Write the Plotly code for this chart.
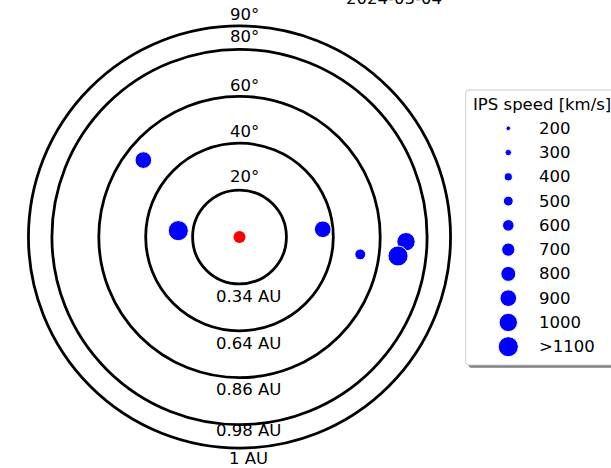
import plotly.graph_objects as go

# ---------------- data ----------------
elev_deg = [20, 40, 60, 80, 90]
deg_labels = ["20°", "40°", "60°", "80°", "90°"]
au_labels = ["0.34 AU", "0.64 AU", "0.86 AU", "0.98 AU", "1 AU"]

ips_x = [-41.0, -26.1, 35.5, 51.5, 71.0, 67.6]
ips_y = [32.8, 2.7, 3.3, -7.4, -2.0, -8.1]
ips_speed = [900, 1100, 900, 560, 1000, 1100]

sun_x = [0.0]
sun_y = [0.0]

legend_speeds = [200, 300, 400, 500, 600, 700, 800, 900, 1000, 1100]
legend_labels = ["200", "300", "400", "500", "600", "700", "800", "900", "1000", ">1100"]
legend_title = "IPS speed [km/s]"
date_label = "2024-03-04"

# ---------------- layout constants ----------------
W, H = 611, 468
CX, CY, S = 239.5, 237.0, 2.345  # centre (px) and px per degree
XR, YR = 100, 98
top_gap = [5.9, 5.2, 4.8, 5.3, 4.7]
bot_gap = [5.5, 5.3, 5.2, 2.4, 4.5]
DEG_LABEL_DX = 5.5 / S
AU_LABEL_DX = 8.7 / S
FONT = "DejaVu Sans"
FS = 16.5


def size_of(v):
    return 1.3 + 0.0171 * v


def px_x(p):
    return p / W


def px_y(p):
    return 1 - p / H


fig = go.Figure()

# sun
fig.add_trace(go.Scatter(x=sun_x, y=sun_y, mode="markers",
                         marker=dict(color="#ff0000", size=12, opacity=1),
                         hoverinfo="skip", showlegend=False))
# IPS points
fig.add_trace(go.Scatter(x=ips_x, y=ips_y, mode="markers",
                         marker=dict(color="#0000ff", opacity=1,
                                     size=[size_of(v) for v in ips_speed]),
                         showlegend=False))

shapes = []
annotations = []
for r, dl, al, tg, bg in zip(elev_deg, deg_labels, au_labels, top_gap, bot_gap):
    shapes.append(dict(type="circle", xref="x", yref="y", x0=-r, x1=r, y0=-r, y1=r,
                       line=dict(color="black", width=2.8), layer="below"))
    annotations.append(dict(x=DEG_LABEL_DX, y=r + tg, xref="x", yref="y", text=dl,
                            showarrow=False, xanchor="center", yanchor="middle",
                            font=dict(family=FONT, size=FS, color="black")))
    annotations.append(dict(x=AU_LABEL_DX, y=-(r + bg), xref="x", yref="y", text=al,
                            showarrow=False, xanchor="center", yanchor="middle",
                            font=dict(family=FONT, size=FS, color="black")))

# title (cut off at the top)
annotations.append(dict(x=px_x(394.2), y=px_y(-2), xref="paper", yref="paper",
                        text=date_label, showarrow=False, xanchor="center", yanchor="middle",
                        font=dict(family=FONT, size=FS, color="black")))


# legend box (shadow + box)
def rounded(x0, y0, x1, y1, rr=3):
    X = px_x
    Y = px_y
    return (f"M {X(x0+rr)},{Y(y0)} L {X(x1-rr)},{Y(y0)} Q {X(x1)},{Y(y0)} {X(x1)},{Y(y0+rr)} "
            f"L {X(x1)},{Y(y1-rr)} Q {X(x1)},{Y(y1)} {X(x1-rr)},{Y(y1)} "
            f"L {X(x0+rr)},{Y(y1)} Q {X(x0)},{Y(y1)} {X(x0)},{Y(y1-rr)} "
            f"L {X(x0)},{Y(y0+rr)} Q {X(x0)},{Y(y0)} {X(x0+rr)},{Y(y0)} Z")


shapes.append(dict(type="path", xref="paper", yref="paper",
                   path=rounded(468.5, 92.8, 640, 367.8),
                   fillcolor="rgba(0,0,0,0.5)", line=dict(width=0), layer="below"))
shapes.append(dict(type="path", xref="paper", yref="paper",
                   path=rounded(465.7, 90, 640, 365),
                   fillcolor="white", line=dict(color="#cccccc", width=1), layer="below"))

# legend entries on their own axes (category axis of legend labels)
fig.add_trace(go.Scatter(x=[508.3] * len(legend_labels), y=legend_labels, mode="markers",
                         xaxis="x2", yaxis="y2",
                         marker=dict(color="#0000ff", opacity=1,
                                     size=[size_of(v) for v in legend_speeds]),
                         hoverinfo="skip", showlegend=False))
for i, lab in enumerate(legend_labels):
    annotations.append(dict(x=536.5, y=i, xref="x2", yref="y2", text=lab, showarrow=False,
                            xanchor="left", yanchor="middle",
                            font=dict(family=FONT, size=FS, color="black")))
annotations.append(dict(x=471.0, y=-1, xref="x2", yref="y2", text=legend_title, showarrow=False,
                        xanchor="left", yanchor="middle",
                        font=dict(family=FONT, size=FS, color="black")))

K = 1.5
STEP = 24.27
leg_top = 128.3 - K * STEP
leg_bot = 346.7 + K * STEP

hidden = dict(visible=False, showgrid=False, zeroline=False, fixedrange=True)
fig.update_layout(
    width=W, height=H,
    margin=dict(l=0, r=0, t=0, b=0),
    paper_bgcolor="white", plot_bgcolor="rgba(0,0,0,0)",
    showlegend=False,
    xaxis=dict(range=[-XR, XR], domain=[px_x(CX - XR * S), px_x(CX + XR * S)], **hidden),
    yaxis=dict(range=[-YR, YR], domain=[px_y(CY + YR * S), px_y(CY - YR * S)], **hidden),
    xaxis2=dict(range=[466, 611], domain=[px_x(466), 1], anchor="y2", **hidden),
    yaxis2=dict(type="category", categoryarray=legend_labels, categoryorder="array",
                range=[len(legend_labels) - 1 + K, -K],
                domain=[px_y(leg_bot), px_y(leg_top)], anchor="x2", **hidden),
    shapes=shapes,
    annotations=annotations,
    font=dict(family=FONT, size=FS, color="black"),
)

fig.write_html("out.html", config={"displayModeBar": False},
               post_script="document.body.style.margin='0';document.body.style.overflow='hidden';")
